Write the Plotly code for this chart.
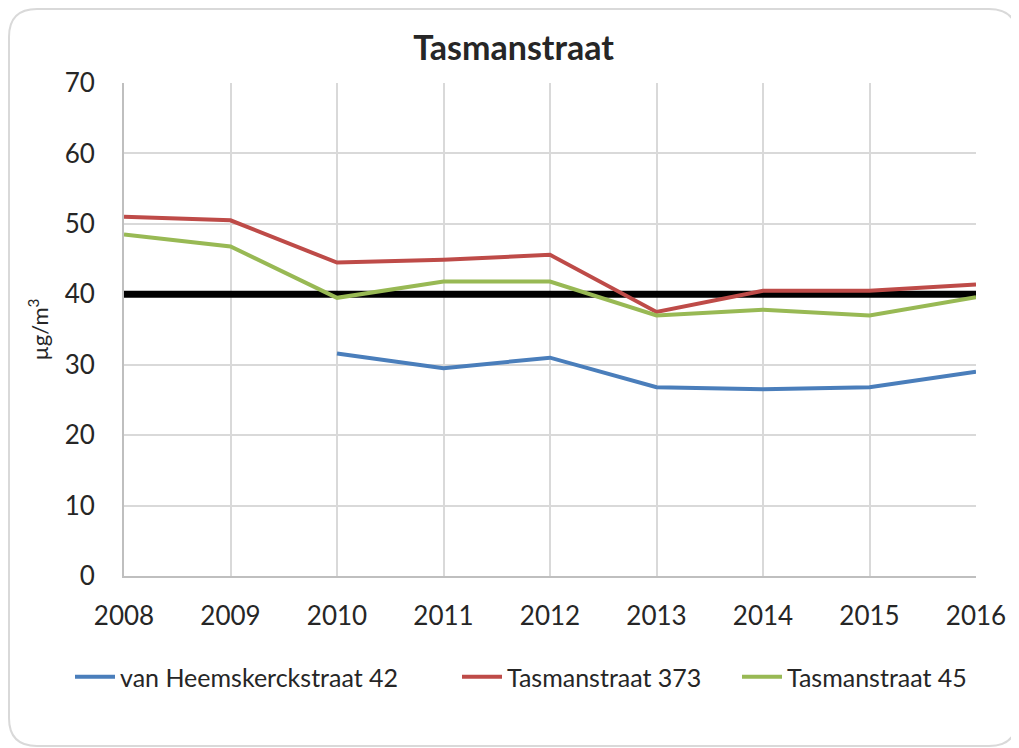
import plotly.graph_objects as go

years = [2008, 2009, 2010, 2011, 2012, 2013, 2014, 2015, 2016]
heemskerck_42 = [None, None, 31.6, 29.5, 31.0, 26.8, 26.5, 26.8, 29.0]
tasman_373 = [51.0, 50.5, 44.5, 44.9, 45.6, 37.5, 40.5, 40.5, 41.4]
tasman_45 = [48.5, 46.8, 39.5, 41.8, 41.8, 37.0, 37.8, 37.0, 39.6]
norm = [40] * len(years)

# page has an 8px body margin; work in figure coordinates
OFF = 8
W, H = 1019 - OFF, 748 - OFF
L, R, T, B = 124 - OFF, 976 - OFF, 83 - OFF, 576 - OFF

fig = go.Figure()
fig.add_trace(go.Scatter(x=years, y=norm, mode="lines", line=dict(color="black", width=7),
                         showlegend=False, hoverinfo="skip"))
fig.add_trace(go.Scatter(x=years, y=heemskerck_42, mode="lines", name="van Heemskerckstraat 42",
                         line=dict(color="#4a7ebb", width=4), legend="legend"))
fig.add_trace(go.Scatter(x=years, y=tasman_373, mode="lines", name="Tasmanstraat 373",
                         line=dict(color="#be4b48", width=4), legend="legend2"))
fig.add_trace(go.Scatter(x=years, y=tasman_45, mode="lines", name="Tasmanstraat 45",
                         line=dict(color="#98b954", width=4), legend="legend3"))

def px(x):
    return (x - L) / (R - L)

def py(y):
    return (B - y) / (B - T)

# rounded border in figure pixel coordinates
x0, y0, x1, y1, r = 1, 1, 1009, 738, 28
pts = (f"M {px(x0 + r)},{py(y0)} L {px(x1 - r)},{py(y0)} Q {px(x1)},{py(y0)} {px(x1)},{py(y0 + r)} "
       f"L {px(x1)},{py(y1 - r)} Q {px(x1)},{py(y1)} {px(x1 - r)},{py(y1)} "
       f"L {px(x0 + r)},{py(y1)} Q {px(x0)},{py(y1)} {px(x0)},{py(y1 - r)} "
       f"L {px(x0)},{py(y0 + r)} Q {px(x0)},{py(y0)} {px(x0 + r)},{py(y0)} Z")
fig.add_shape(type="path", path=pts, xref="paper", yref="paper",
              line=dict(color="#d9d9d9", width=2), layer="below")

leg_y = py(677 - OFF)
leg_common = dict(orientation="h", yanchor="middle", y=leg_y, xanchor="left",
                  font=dict(size=25, color="#262626"), itemwidth=40, bgcolor="rgba(0,0,0,0)")

fig.update_layout(
    width=W, height=H,
    margin=dict(l=L, r=W - R, t=T, b=H - B),
    paper_bgcolor="white", plot_bgcolor="white",
    font=dict(family="Lato, Open Sans, sans-serif", color="#404040"),
    title=dict(text="<b>Tasmanstraat</b>", x=0.5, xanchor="center", y=1 - (48 - OFF) / H, yanchor="middle",
               font=dict(size=34, color="#262626", family="Lato, sans-serif")),
    xaxis=dict(range=[2008, 2016], tickvals=years, ticktext=[str(y) for y in years],
               showgrid=True, gridcolor="#d9d9d9", gridwidth=2, zeroline=False,
               showline=True, linecolor="#bfbfbf", linewidth=2, ticks="",
               tickfont=dict(size=26, color="#262626"), ticklabelstandoff=16),
    yaxis=dict(range=[0, 70], dtick=10, showgrid=True, gridcolor="#d9d9d9", gridwidth=2,
               zeroline=False, showline=True, linecolor="#bfbfbf", linewidth=2, ticks="",
               tickfont=dict(size=26, color="#262626"), ticklabelstandoff=22,
               title=dict(text="µg/m<sup>3</sup>", font=dict(size=22, color="#262626"), standoff=10)),
    legend=dict(x=px(70 - OFF), **leg_common),
    legend2=dict(x=px(457 - OFF), **leg_common),
    legend3=dict(x=px(737 - OFF), **leg_common),
)

fig.write_html("out.html")
